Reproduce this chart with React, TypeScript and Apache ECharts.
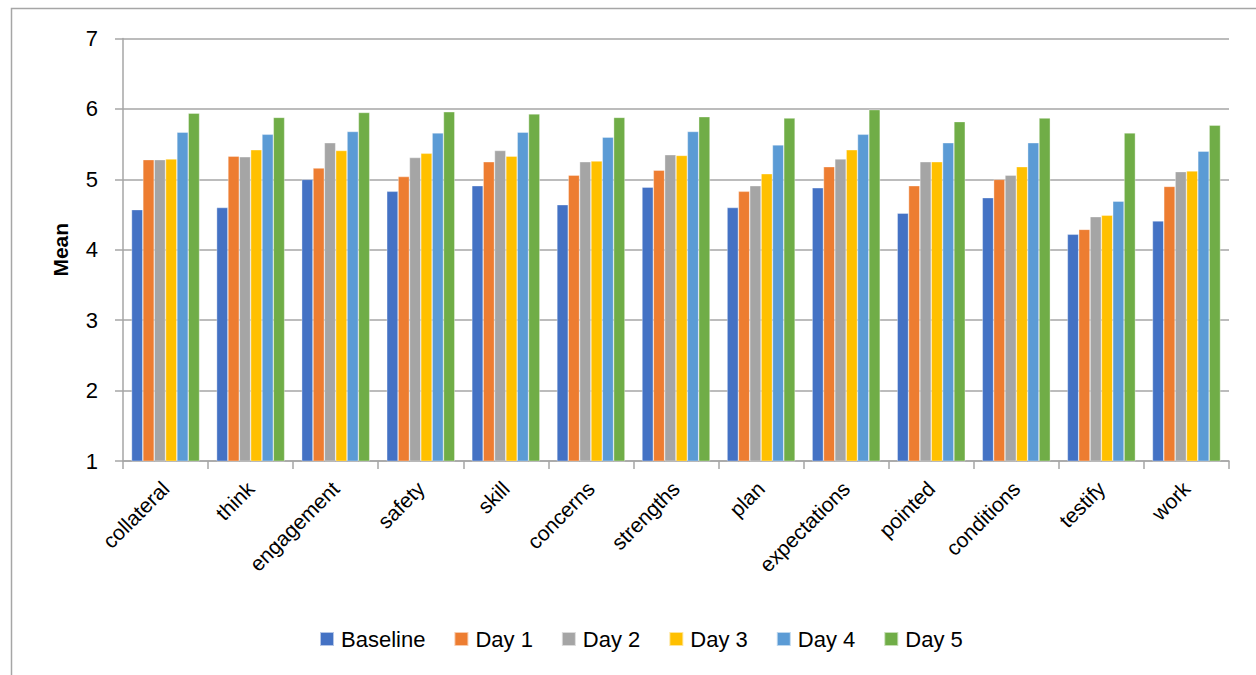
import React, { useEffect, useRef } from "react";
import * as echarts from "echarts";

const categories = [
  "collateral", "think", "engagement", "safety", "skill", "concerns", "strengths",
  "plan", "expectations", "pointed", "conditions", "testify", "work",
];

const seriesNames = ["Baseline", "Day 1", "Day 2", "Day 3", "Day 4", "Day 5"];
const seriesColors = ["#4472C4", "#ED7D31", "#A5A5A5", "#FFC000", "#5B9BD5", "#70AD47"];

const baseline = [4.57, 4.60, 5.00, 4.83, 4.91, 4.64, 4.89, 4.60, 4.88, 4.52, 4.74, 4.22, 4.41];
const day1 = [5.28, 5.33, 5.16, 5.04, 5.25, 5.06, 5.13, 4.83, 5.18, 4.91, 5.00, 4.29, 4.90];
const day2 = [5.28, 5.32, 5.52, 5.31, 5.41, 5.25, 5.35, 4.91, 5.29, 5.25, 5.06, 4.47, 5.11];
const day3 = [5.29, 5.42, 5.41, 5.37, 5.33, 5.26, 5.34, 5.08, 5.42, 5.25, 5.18, 4.49, 5.12];
const day4 = [5.67, 5.64, 5.68, 5.66, 5.67, 5.60, 5.68, 5.49, 5.64, 5.52, 5.52, 4.69, 5.40];
const day5 = [5.94, 5.88, 5.95, 5.96, 5.93, 5.88, 5.89, 5.87, 5.99, 5.82, 5.87, 5.66, 5.77];

const seriesValues = [baseline, day1, day2, day3, day4, day5];

const yTicks = { min: 1, max: 7, interval: 1 };

const FONT = "'Liberation Sans', 'Noto Sans', sans-serif";

export default function App() {
  const ref = useRef<HTMLDivElement>(null);

  useEffect(() => {
    document.body.style.margin = "0";
    const chart = echarts.init(ref.current!, undefined, { renderer: "svg" });
    chart.setOption({
      animation: false,
      backgroundColor: "#ffffff",
      graphic: [
        {
          type: "rect",
          silent: true,
          shape: { x: 11.5, y: 8.5, width: 1400, height: 800 },
          style: { fill: "none", stroke: "#a6a6a6", lineWidth: 1.5 },
        },
      ],
      grid: { left: 123, right: 27, top: 38.5, bottom: 214, containLabel: false },
      legend: {
        data: seriesNames,
        bottom: 20,
        left: 314,
        itemWidth: 14,
        itemHeight: 14,
        itemGap: 28,
        icon: "rect",
        textStyle: { fontFamily: FONT, fontSize: 22, color: "#000", padding: [0, 0, 0, 2] },
      },
      xAxis: {
        type: "category",
        data: categories,
        axisLine: { show: true, lineStyle: { color: "#a6a6a6", width: 1.5 } },
        axisTick: { show: true, length: 8, alignWithLabel: false, lineStyle: { color: "#a6a6a6", width: 1.5 } },
        axisLabel: {
          rotate: 45,
          interval: 0,
          margin: 24,
          fontFamily: FONT,
          fontSize: 21,
          color: "#000",
        },
      },
      yAxis: {
        type: "value",
        min: yTicks.min,
        max: yTicks.max,
        interval: yTicks.interval,
        name: "Mean",
        nameLocation: "middle",
        nameGap: 52,
        nameRotate: 90,
        nameTextStyle: { fontFamily: FONT, fontSize: 21, fontWeight: "bold", color: "#000" },
        axisLine: { show: true, lineStyle: { color: "#a6a6a6", width: 1.5 } },
        axisTick: { show: true, length: 8, lineStyle: { color: "#a6a6a6", width: 1.5 } },
        splitLine: { show: true, lineStyle: { color: "#a6a6a6", width: 1.5 } },
        axisLabel: { margin: 25, fontFamily: FONT, fontSize: 22, color: "#000" },
      },
      series: seriesNames.map((name, i) => ({
        name,
        type: "bar",
        data: seriesValues[i],
        barGap: "0%",
        barCategoryGap: "20%",
        itemStyle: { color: seriesColors[i], borderColor: "rgba(255,255,255,0.6)", borderWidth: 0.6 },
      })),
    });
    return () => chart.dispose();
  }, []);

  return <div ref={ref} style={{ width: 1256, height: 675 }} />;
}
